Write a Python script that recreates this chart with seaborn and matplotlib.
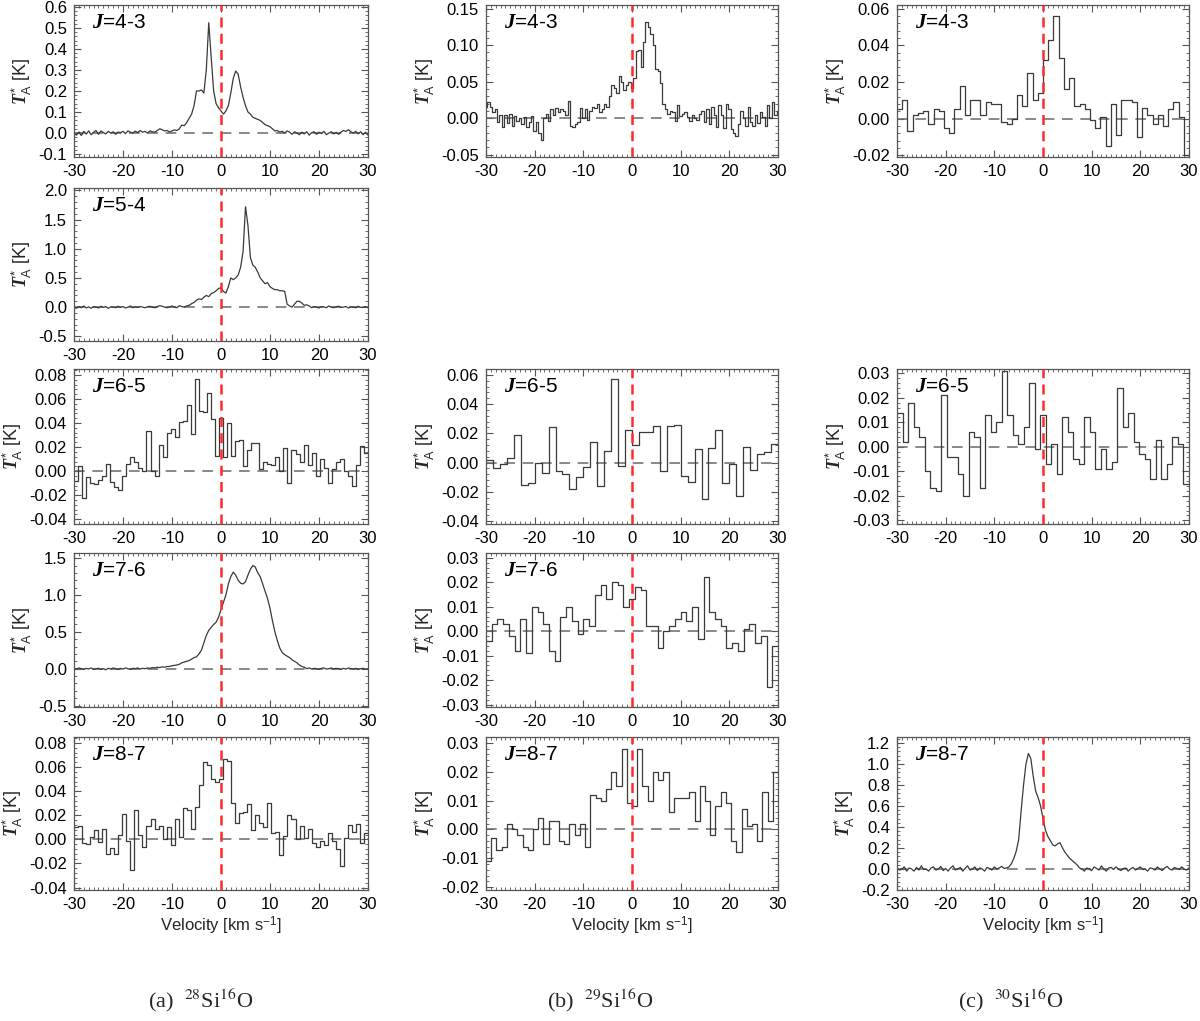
import numpy as np
import matplotlib
matplotlib.use("Agg")
import matplotlib.pyplot as plt
import seaborn as sns
from matplotlib import font_manager
from matplotlib.ticker import MultipleLocator, FormatStrFormatter, AutoMinorLocator

# ---------------- data (antenna temperature in K, velocity -30..30 km/s) ----------------
# 28SiO J=4-3 (fine resolution, 0.5 km/s samples)
a43 = [0.000, -0.010, 0.005, -0.012, 0.008, -0.005, 0.010, -0.008, 0.004, 0.012,
       -0.006, 0.010, 0.002, -0.004, 0.008, 0.000, 0.006, -0.006, 0.005, 0.002,
       0.008, -0.003, 0.010, 0.004, 0.000, 0.009, 0.002, 0.012, 0.004, 0.008,
       0.000, 0.010, 0.006, 0.004, 0.012, 0.020, 0.016, 0.010, 0.012, 0.005,
       0.010, 0.015, 0.012,
       0.020, 0.038, 0.035, 0.050, 0.070, 0.090, 0.130, 0.200, 0.200, 0.205,
       0.190, 0.300, 0.525, 0.360, 0.200, 0.140, 0.120, 0.105, 0.090, 0.105,
       0.130, 0.190, 0.260, 0.295, 0.280, 0.220, 0.170, 0.130, 0.100, 0.090,
       0.075, 0.070, 0.065, 0.060, 0.050, 0.040, 0.035, 0.030, 0.020, 0.010,
       0.012, 0.005,
       0.008, 0.000, 0.010, 0.004, -0.006, 0.006, 0.000, -0.008, 0.004, -0.004,
       0.006, -0.010, 0.002, 0.006, -0.006, 0.004, -0.002, 0.008, -0.008, 0.000,
       0.006, -0.004, 0.003, -0.006, 0.005, 0.012, 0.008, 0.016, 0.006, 0.000,
       0.008, -0.004, 0.006, -0.008, 0.004, -0.010]

# 28SiO J=5-4
a54 = [0.00, -0.02, 0.01, -0.01, 0.02, -0.015, 0.005, -0.02, 0.01, 0.0,
       -0.015, 0.015, -0.005, 0.01, -0.02, 0.005, 0.0, -0.01, 0.015, -0.005,
       0.01, -0.015, 0.0, 0.02, -0.01, 0.005, -0.005, 0.01, 0.0, -0.01,
       0.005, 0.015, 0.0, -0.01, 0.01, 0.025, 0.015, 0.0, -0.01, 0.005,
       0.02, 0.0, -0.01, 0.025, 0.01, 0.0, 0.02,
       0.03, 0.06, 0.08, 0.12, 0.14, 0.13, 0.17, 0.20, 0.18, 0.23,
       0.25, 0.28, 0.32, 0.33, 0.27, 0.24, 0.35, 0.50, 0.47, 0.50,
       0.55, 0.68, 0.95, 1.72, 1.40, 0.85, 0.72, 0.68, 0.60, 0.50,
       0.45, 0.40, 0.42, 0.35, 0.32, 0.30, 0.30, 0.28, 0.28, 0.27,
       0.05, 0.02, 0.0, 0.05, 0.10, 0.10, 0.07, 0.03, 0.04, 0.02,
       -0.01, 0.01, 0.0, -0.015, 0.01, 0.005, -0.01, 0.02, 0.0, -0.01,
       0.005, 0.015, -0.005, 0.0, 0.01, -0.015, 0.005, 0.0, -0.01, 0.015,
       -0.005, 0.0, 0.01, -0.01]

# 28SiO J=6-5 (channel steps)
a65 = [-0.008, 0.004, -0.022, -0.005, -0.010, -0.011, -0.007, -0.004, 0.006, -0.009,
       -0.013, -0.016, -0.004, 0.006, 0.012, 0.008, 0.003, 0.000, 0.033, 0.000,
       -0.004, 0.022, 0.012, 0.032, 0.035, 0.028, 0.041, 0.042, 0.055, 0.031,
       0.077, 0.050, 0.049, 0.065, 0.043, 0.013, 0.044, 0.012, 0.040, 0.013,
       0.025, 0.026, 0.004, 0.018, 0.023, 0.023, 0.002, 0.008, 0.006, 0.005,
       0.012, 0.000, 0.019, -0.010, 0.018, 0.014, 0.008, 0.022, 0.005, 0.015,
       -0.004, 0.010, 0.003, -0.010, 0.002, 0.008, 0.010, 0.000, -0.004, -0.012,
       0.005, 0.021, 0.015]

# 28SiO J=7-6
a76 = [0.005, -0.005, 0.01, 0.0, -0.01, 0.005, -0.005, 0.01, -0.01, 0.0,
       0.005, -0.01, 0.0, -0.015, 0.005, -0.005, 0.01, 0.0, -0.01, 0.005,
       -0.005, 0.01, 0.0, -0.01, 0.005, 0.0, 0.01, -0.005, 0.005, 0.0,
       0.01, 0.005, 0.015, 0.01, 0.02, 0.015, 0.025, 0.02, 0.03, 0.03,
       0.04, 0.045, 0.05, 0.06, 0.08, 0.09, 0.10, 0.11, 0.13, 0.15,
       0.16, 0.20, 0.25, 0.35, 0.45, 0.52, 0.56, 0.60, 0.63, 0.70,
       0.80, 0.90, 1.00, 1.15, 1.25, 1.31, 1.27, 1.20, 1.16, 1.15,
       1.18, 1.27, 1.35, 1.40, 1.38, 1.30, 1.25, 1.15, 1.05, 0.95,
       0.82, 0.65, 0.50, 0.38, 0.28, 0.22, 0.19, 0.17, 0.15, 0.12,
       0.10, 0.08, 0.05, 0.03, 0.02,
       0.0, 0.01, -0.005, 0.005, 0.0, -0.01, 0.005, 0.01, -0.005, 0.0,
       0.01, -0.005, 0.005, 0.0, -0.01, 0.005, -0.005, 0.01, 0.0, -0.005,
       0.005, -0.01, 0.0, 0.005, -0.005, 0.0]

# 28SiO J=8-7 (channel steps)
a87 = [0.010, 0.011, -0.003, -0.004, 0.002, 0.008, -0.002, 0.009, -0.012, -0.007,
       -0.012, 0.004, 0.021, -0.001, -0.025, 0.024, 0.004, -0.006, 0.011, 0.017,
       0.009, 0.011, 0.000, 0.010, -0.005, 0.017, 0.002, 0.026, 0.024, 0.009,
       0.027, 0.045, 0.064, 0.062, 0.050, 0.048, 0.050, 0.067, 0.065, 0.030,
       0.014, 0.022, 0.023, 0.029, 0.008, 0.020, 0.014, 0.010, 0.030, 0.005,
       0.006, -0.013, 0.003, 0.020, 0.017, 0.000, 0.011, 0.001, 0.009, -0.003,
       -0.006, -0.001, -0.005, 0.005, -0.001, -0.008, -0.022, 0.001, 0.012, 0.006,
       0.013, -0.003, 0.005]

# 29SiO J=4-3 (0.5 km/s channels)
b43 = [0.016, 0.022, 0.015, 0.008, 0.012, -0.005, 0.005, -0.012, 0.004, -0.006,
       0.006, -0.010, 0.003, -0.004, 0.000, -0.008, 0.002, -0.012, -0.005, 0.003,
       -0.018, -0.005, -0.020, -0.030, 0.000, 0.006, -0.004, 0.012, 0.005, 0.014,
       0.008, 0.012, 0.010, 0.004, 0.024, -0.010, -0.012, -0.008, -0.005, 0.014,
       0.000, 0.012, -0.002, 0.010, 0.016, 0.014, 0.020, 0.008, 0.012, 0.020,
       0.015, 0.030, 0.046, 0.042, 0.035, 0.058, 0.050, 0.038, 0.045, 0.050,
       0.042, 0.055, 0.092, 0.094, 0.070, 0.105, 0.132, 0.125, 0.115, 0.100,
       0.068, 0.064, 0.048, 0.020, 0.012, 0.006, 0.010, 0.008, -0.004, 0.018,
       0.003, 0.006, 0.009, 0.002, -0.004, 0.005, 0.000, -0.003, 0.006, 0.010,
       -0.005, 0.012, -0.008, 0.016, 0.004, -0.012, 0.018, 0.004, -0.014, 0.020,
       0.012, -0.015, -0.020, -0.024, -0.008, 0.010, 0.000, -0.010, 0.015, -0.005,
       -0.010, 0.005, -0.006, 0.008, 0.002, -0.010, 0.018, 0.000, 0.022, 0.005,
       0.010]

# 29SiO J=6-5
b65 = [0.002, -0.004, -0.001, 0.003, 0.019, -0.015, -0.014, 0.000, -0.007, 0.024,
       -0.006, -0.008, -0.018, -0.010, -0.003, 0.014, -0.016, 0.008, 0.057, -0.002,
       0.022, 0.012, 0.021, 0.021, 0.025, -0.006, 0.025, 0.026, -0.009, -0.013,
       0.009, -0.025, 0.010, 0.022, -0.014, -0.001, -0.023, 0.011, -0.005, 0.006,
       0.007, 0.013]

# 29SiO J=7-6
b76 = [-0.004, 0.003, 0.005, 0.003, -0.002, -0.008, 0.005, -0.009, 0.010, 0.008,
       0.003, -0.008, -0.012, 0.006, 0.010, 0.004, -0.001, 0.005, 0.002, 0.015,
       0.019, 0.013, 0.020, 0.019, 0.010, 0.013, 0.018, 0.017, 0.002, 0.002,
       -0.007, 0.000, 0.002, 0.005, 0.008, 0.004, 0.010, -0.003, 0.022, 0.008,
       0.005, 0.002, -0.007, -0.005, -0.008, 0.001, 0.003, -0.005, -0.002, -0.023,
       -0.006]

# 29SiO J=8-7
b87 = [-0.011, -0.003, -0.007, -0.006, 0.002, 0.000, -0.002, -0.006, -0.007, 0.000,
       0.004, -0.005, 0.003, 0.003, -0.004, -0.005, 0.002, -0.002, 0.002, -0.006,
       0.012, 0.011, 0.010, 0.014, 0.020, 0.015, 0.028, 0.009, 0.008, 0.028,
       0.015, 0.010, 0.020, 0.017, 0.020, 0.006, 0.011, 0.011, 0.011, 0.013,
       0.003, 0.015, 0.010, -0.002, 0.008, 0.013, 0.009, -0.004, -0.008, 0.007,
       0.001, 0.002, -0.004, 0.013, 0.003, 0.020]

# 30SiO J=4-3
c43 = [0.005, 0.010, -0.007, 0.002, 0.003, 0.004, -0.003, 0.005, 0.004, -0.005,
       -0.008, 0.005, 0.018, 0.002, 0.010, 0.010, 0.002, 0.009, 0.008, 0.008,
       -0.002, -0.003, 0.000, 0.013, 0.007, 0.025, 0.010, 0.014, 0.032, 0.043,
       0.056, 0.033, 0.016, 0.022, 0.007, 0.008, 0.005, -0.001, -0.005, 0.001,
       -0.015, 0.008, -0.009, 0.010, 0.010, 0.009, -0.010, 0.006, 0.002, -0.003,
       0.002, -0.004, 0.005, 0.009, 0.001, -0.020]

# 30SiO J=6-5
c65 = [0.014, 0.002, 0.018, 0.008, 0.004, -0.010, -0.017, -0.018, 0.021, -0.004,
       -0.004, -0.011, -0.020, 0.006, 0.004, -0.017, 0.013, 0.006, 0.010, 0.031,
       0.013, 0.005, 0.001, 0.008, 0.026, -0.001, 0.013, -0.007, 0.001, -0.011,
       0.012, 0.006, -0.005, -0.007, 0.012, 0.006, -0.009, -0.001, -0.009, -0.006,
       0.024, 0.008, 0.014, 0.002, -0.003, -0.005, -0.013, 0.003, -0.013, -0.007,
       0.004, 0.001, -0.015]

# 30SiO J=8-7 (fine resolution)
c87 = [0.01, -0.01, 0.0, 0.02, -0.02, 0.01, 0.0, -0.02, 0.015, -0.01,
       0.03, -0.005, 0.0, -0.02, 0.01, 0.02, -0.01, 0.0, 0.025, -0.015,
       0.005, -0.02, 0.01, 0.03, -0.01, 0.0, 0.015, -0.02, 0.005, 0.03,
       -0.01, 0.0, 0.02, -0.015, 0.01, 0.0, -0.02, 0.015, 0.005, -0.01,
       0.02, 0.0, 0.01, 0.025, 0.005, 0.01,
       0.02, 0.05, 0.10, 0.17, 0.28, 0.55, 0.80, 1.00, 1.10, 1.05,
       0.88, 0.74, 0.68, 0.60, 0.48, 0.37, 0.31, 0.27, 0.23, 0.22,
       0.24, 0.25, 0.20, 0.16, 0.13, 0.10, 0.08, 0.06, 0.04, 0.01,
       0.0,
       -0.02, 0.01, 0.0, -0.015, 0.02, 0.005, -0.01, 0.03, 0.0, -0.02,
       0.01, 0.015, -0.005, 0.02, 0.0, -0.015, 0.005, 0.01, -0.02, 0.0,
       0.015, -0.01, 0.005, 0.02, -0.005, 0.0, -0.02, 0.01, 0.005, -0.01,
       0.02, 0.0, -0.015, 0.01, 0.025, 0.0, -0.01, 0.015, 0.005, -0.005,
       0.02, 0.0, -0.01, 0.01]

x_ticks = [-30, -20, -10, 0, 10, 20, 30]
transitions = ["4-3", "5-4", "6-5", "7-6", "8-7"]
captions = ["(a)  $^{28}$Si$^{16}$O", "(b)  $^{29}$Si$^{16}$O", "(c)  $^{30}$Si$^{16}$O"]

# ---------------- style ----------------
sns.set_theme(style="ticks")
installed = {f.name for f in font_manager.fontManager.ttflist}
tick_family = ["Liberation Sans Narrow"] if "Liberation Sans Narrow" in installed else []
tick_family += ["Liberation Sans", "DejaVu Sans"]
tick_size = 13 if "Liberation Sans Narrow" in installed else 12

plt.rcParams.update({
    "font.family": ["Liberation Sans", "DejaVu Sans"],
    "mathtext.fontset": "custom",
    "mathtext.it": "Liberation Serif:italic:bold",
    "mathtext.rm": "Liberation Sans",
    "mathtext.bf": "Liberation Sans:bold",
    "axes.unicode_minus": False,
    "xtick.direction": "in",
    "ytick.direction": "in",
    "xtick.top": True,
    "ytick.right": True,
})

W, H = 1200, 1021
fig = plt.figure(figsize=(W / 100, H / 100), dpi=100)

col_left = [74, 486, 897]
col_w = [294, 292, 292]
rows = [(5, 157), (188, 341), (369, 524), (553, 707), (737, 890)]

# (column, row, values, kind, ylim, ytick start/stop/step, format)
panels = [
    (0, 0, a43, "line", (-0.114, 0.609), (-0.1, 0.6, 0.1), "%.1f"),
    (0, 1, a54, "line", (-0.58, 2.04), (-0.5, 2.0, 0.5), "%.1f"),
    (0, 2, a65, "edge", (-0.044, 0.085), (-0.04, 0.08, 0.02), "%.2f"),
    (0, 3, a76, "line", (-0.52, 1.57), (-0.5, 1.5, 0.5), "%.1f"),
    (0, 4, a87, "edge", (-0.042, 0.085), (-0.04, 0.08, 0.02), "%.2f"),
    (1, 0, b43, "mid", (-0.053, 0.155), (-0.05, 0.15, 0.05), "%.2f"),
    (1, 2, b65, "edge", (-0.042, 0.064), (-0.04, 0.06, 0.02), "%.2f"),
    (1, 3, b76, "edge", (-0.031, 0.032), (-0.03, 0.03, 0.01), "%.2f"),
    (1, 4, b87, "edge", (-0.021, 0.032), (-0.02, 0.03, 0.01), "%.2f"),
    (2, 0, c43, "edge", (-0.021, 0.062), (-0.02, 0.06, 0.02), "%.2f"),
    (2, 2, c65, "edge", (-0.0315, 0.0318), (-0.03, 0.03, 0.01), "%.2f"),
    (2, 4, c87, "line", (-0.2, 1.257), (-0.2, 1.2, 0.2), "%.1f"),
]

line_col = "#3a3a3a"
frame_col = "#555555"

for col, row, vals, kind, ylim, yt, fmt in panels:
    top, bot = rows[row]
    ax = fig.add_axes([col_left[col] / W, 1 - bot / H, col_w[col] / W, (bot - top) / H])
    vals = np.asarray(vals, dtype=float)
    n = len(vals)
    if kind == "line":
        x = np.linspace(-30, 30, n)
        sns.lineplot(x=x, y=vals, ax=ax, color=line_col, lw=0.9, estimator=None)
    elif kind == "mid":
        x = np.linspace(-30, 30, n)
        sns.lineplot(x=x, y=vals, ax=ax, color=line_col, lw=0.9, estimator=None,
                     drawstyle="steps-mid")
    else:
        x = np.linspace(-30, 30, n + 1)
        y = np.append(vals, vals[-1])
        sns.lineplot(x=x, y=y, ax=ax, color=line_col, lw=0.9, estimator=None,
                     drawstyle="steps-post")
    ax.axhline(0, color="#6a6a6a", lw=1.1, ls=(0, (7, 5)), zorder=1)
    ax.axvline(0, color="#ff2a2a", lw=1.8, ls=(0, (4, 2.5)), zorder=3)

    ax.set_xlim(-30, 30)
    ax.set_ylim(*ylim)
    ax.set_xticks(x_ticks)
    ax.xaxis.set_minor_locator(MultipleLocator(1))
    ticks = np.round(np.arange(yt[0], yt[1] + yt[2] / 2, yt[2]), 4)
    ax.set_yticks(ticks)
    ax.yaxis.set_minor_locator(AutoMinorLocator(5))
    ax.yaxis.set_major_formatter(FormatStrFormatter(fmt))
    ax.tick_params(which="major", length=5, width=0.8, color=frame_col,
                   labelsize=tick_size, pad=5, labelcolor="black")
    ax.tick_params(which="minor", length=2.5, width=0.6, color=frame_col)
    for lab in ax.get_xticklabels() + ax.get_yticklabels():
        lab.set_family(tick_family)
    for s in ax.spines.values():
        s.set_color(frame_col)
        s.set_linewidth(0.9)
    ax.set_ylabel(r"$T_{\mathrm{A}}^{*}$ [K]", fontsize=13, labelpad=3)
    if row == 4:
        ax.set_xlabel(r"Velocity [km s$^{-1}$]", fontsize=12, labelpad=2)
    else:
        ax.set_xlabel("")
    ax.text(0.06, 0.885, r"$J$=" + transitions[row], transform=ax.transAxes,
            fontsize=15, ha="left", va="center", color="black")

for i, cap in enumerate(captions):
    fig.text([0.167, 0.5, 0.842][i], 1 - 1000 / H, cap, ha="center", va="center",
             fontsize=16, family=["Liberation Serif", "DejaVu Serif"], math_fontfamily="stix")

fig.savefig("out.png", dpi=100)
